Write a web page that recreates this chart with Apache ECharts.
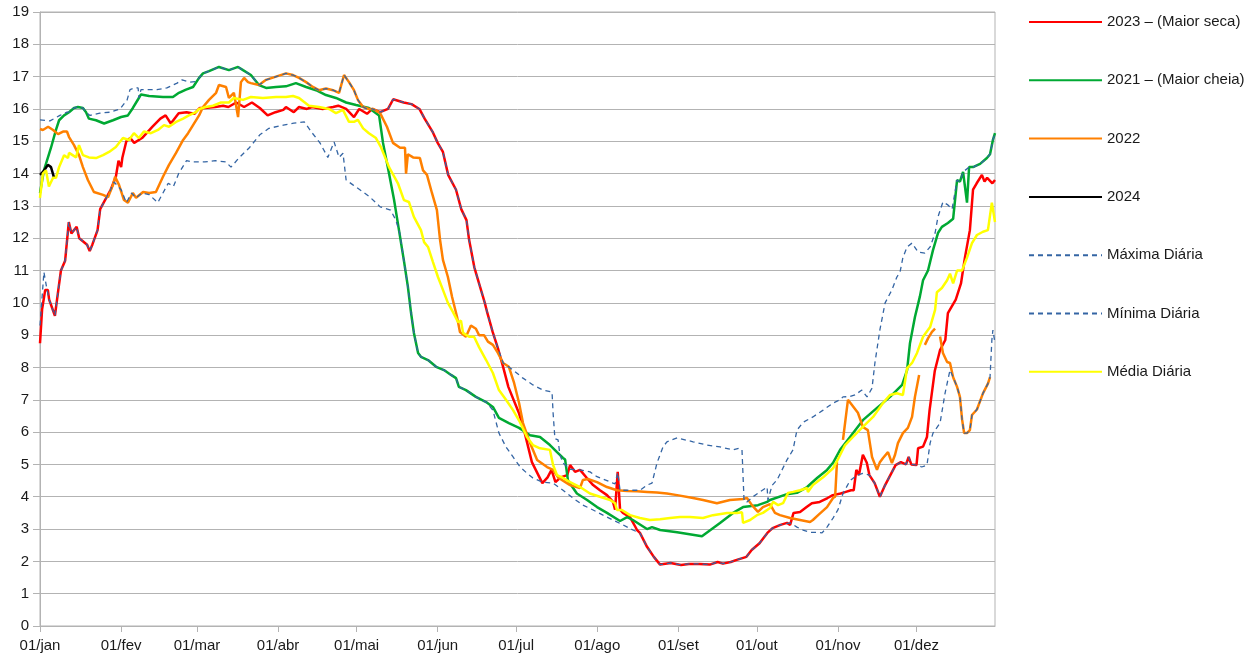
<!DOCTYPE html>
<html>
<head>
<meta charset="utf-8">
<script src="https://cdn.jsdelivr.net/npm/echarts@6/dist/echarts.min.js"></script>
<style>
  html, body { margin: 0; padding: 0; background: #fff; }
  #chart { width: 1256px; height: 661px; }
</style>
</head>
<body>
<div id="chart"></div>
<script>
// ---- calendar / tick labels (leap year, day index 0 = 01/jan) ----
const monthLengths = [31, 29, 31, 30, 31, 30, 31, 31, 30, 31, 30, 31];
const monthNames = ['jan', 'fev', 'mar', 'abr', 'mai', 'jun', 'jul', 'ago', 'set', 'out', 'nov', 'dez'];
const yTicks = { min: 0, max: 19, step: 1 };

// ---- series: [day of year, level] ----
const serie2023 = [[0,8.75],[0.8,9.8],[2,10.4],[3,10.4],[3.5,10.1],[5.7,9.6],[7,10.4],[8,11.0],[9.6,11.3],[11,12.5],[12,12.15],[14,12.35],[15,12.0],[18,11.8],[19,11.6],[20,11.8],[22,12.25],[23,12.9],[25,13.2],[27,13.5],[29,13.9],[30,14.4],[31,14.2],[31.5,14.5],[33,15.0],[34.5,15.1],[36,14.95],[39,15.1],[43,15.45],[46,15.7],[48,15.8],[50,15.55],[53,15.87],[56,15.9],[59,15.85],[61,16.03],[63,16.03],[67,16.06],[70,16.1],[72,16.06],[75,16.2],[78,16.06],[81,16.2],[84,16.03],[87,15.8],[90,15.9],[93,15.97],[94,16.06],[97,15.9],[99,16.06],[102,16.0],[104,16.06],[108,16.0],[112,16.06],[114,16.1],[117,16.0],[120,15.75],[122,16.0],[125,15.85],[127,16.0],[130,15.9],[133,16.0],[135,16.3],[139,16.2],[142,16.15],[145,16.0],[147,15.7],[150,15.3],[152,14.95],[154,14.67],[156,13.96],[159,13.5],[161,12.9],[163,12.56],[164,11.95],[166,11.1],[168,10.55],[170,10.0],[171,9.68],[173,9.1],[175,8.6],[177,8.02],[179,7.4],[183,6.6],[185,6.06],[188,5.07],[192,4.42],[194,4.6],[195.5,4.83],[197,4.45],[199,4.6],[201.5,4.67],[202.6,4.98],[204.5,4.77],[206.4,4.83],[209,4.58],[211.4,4.36],[214,4.2],[216.7,4.05],[219,3.84],[219.8,3.6],[220.8,4.77],[221.7,3.6],[222.8,3.5],[225.5,3.37],[228.2,2.97],[229.3,2.88],[232,2.45],[234.6,2.14],[237,1.9],[241,1.95],[245,1.89],[248,1.92],[252,1.92],[256,1.9],[259,1.98],[261,1.93],[264,1.98],[266,2.04],[270,2.14],[272,2.35],[275,2.56],[278,2.88],[280,3.03],[283,3.13],[285.5,3.19],[286.7,3.13],[288,3.5],[290.5,3.53],[293,3.68],[295,3.8],[298,3.84],[301,3.96],[303,4.05],[306,4.1],[308,4.15],[310,4.2],[311,4.2],[312,4.83],[313,4.67],[314.5,5.3],[316,5.05],[317,4.67],[319,4.42],[321,4.0],[323,4.36],[325,4.67],[327,4.98],[329,5.07],[331,5.0],[332,5.23],[333,5.0],[335,4.98],[335.6,5.5],[337.5,5.55],[339,5.85],[340,6.68],[342,7.9],[344,8.54],[346,8.85],[347,9.68],[350,10.1],[352,10.6],[353.5,11.4],[355.4,12.25],[356.6,13.5],[358,13.7],[360,13.96],[361,13.75],[362,13.87],[364,13.7],[365,13.8]];

const serie2021 = [[0,13.4],[1.5,14.1],[4.2,14.8],[6.1,15.35],[7.3,15.65],[9.2,15.8],[11.1,15.9],[13,16.03],[14.5,16.06],[16.4,16.03],[17.6,15.9],[18.7,15.7],[21.4,15.65],[24.5,15.55],[27.9,15.65],[31,15.75],[33.6,15.8],[35.5,16.03],[37.5,16.3],[38.6,16.45],[41.7,16.4],[47,16.37],[50.8,16.37],[53.1,16.5],[55.8,16.6],[58.5,16.68],[60.8,16.96],[62.3,17.1],[64.6,17.17],[68.4,17.3],[72.2,17.2],[75.7,17.3],[77.6,17.2],[80.6,17.05],[83.7,16.74],[86.4,16.65],[90.2,16.68],[94,16.7],[97.8,16.8],[101.7,16.68],[105.5,16.58],[109.3,16.43],[113.1,16.34],[117,16.2],[120.8,16.12],[125.7,16.03],[129.6,15.8],[131.1,14.95],[133.4,14.0],[135.3,13.2],[137.2,12.25],[139.1,11.3],[140.6,10.5],[141.8,9.7],[142.9,9.07],[144.5,8.45],[145.6,8.33],[148.3,8.23],[151.4,8.02],[154.4,7.92],[157.1,7.77],[159,7.67],[160.1,7.4],[162.8,7.3],[166.6,7.09],[170.5,6.93],[173.1,6.78],[175.4,6.44],[179.2,6.28],[183.1,6.13],[187.3,5.9],[191.1,5.85],[194.9,5.6],[197.6,5.38],[199.9,5.2],[200.7,5.15],[201.8,4.5],[205.2,4.1],[209.1,3.9],[212.9,3.68],[216.7,3.5],[221.7,3.25],[224.4,3.37],[226.6,3.28],[232,3.0],[233.9,3.06],[237,2.97],[243.5,2.9],[253,2.78],[259.9,3.19],[264.9,3.5],[268.7,3.68],[274.4,3.74],[277.9,3.84],[279,3.9],[285.5,4.08],[289.3,4.12],[293.2,4.3],[297,4.58],[300.8,4.83],[303.1,5.05],[305.8,5.45],[309.6,5.85],[314.5,6.37],[319.9,6.75],[324.9,7.09],[329.5,7.46],[331.4,7.92],[332.5,8.75],[334.4,9.56],[336.3,10.2],[337.5,10.7],[339.4,11.0],[341.3,11.63],[343.2,12.16],[344.7,12.35],[347,12.47],[349,12.6],[350.5,13.8],[351.6,13.75],[352.8,14.05],[354.3,13.1],[355.1,14.2],[356.6,14.2],[359.3,14.3],[361.9,14.48],[363.1,14.6],[364.2,15.04],[365,15.25]];

const serie2022 = [[0,15.38],[1.1,15.35],[3.1,15.45],[5,15.35],[6.9,15.22],[8.8,15.3],[10.3,15.3],[11.1,15.13],[13,14.88],[14.9,14.57],[16.4,14.2],[18.3,13.8],[20.6,13.43],[24.1,13.34],[26,13.27],[27.9,13.65],[28.7,13.9],[30.2,13.65],[32.1,13.18],[33.6,13.1],[35.5,13.4],[36.7,13.25],[39.4,13.43],[41.7,13.4],[44.3,13.43],[47,13.9],[49.3,14.27],[52,14.64],[54.7,15.04],[56.6,15.25],[58.5,15.5],[60.8,15.8],[62.3,16.06],[64.6,16.28],[67.3,16.5],[68.4,16.74],[71.1,16.68],[72.2,16.34],[74.1,16.5],[75.7,15.75],[76.8,16.83],[78,16.96],[79.5,16.83],[80.6,16.8],[83.7,16.74],[86.4,16.9],[90.2,17.0],[94,17.1],[96.7,17.05],[99,16.96],[101.7,16.83],[104.3,16.68],[106.6,16.58],[109.3,16.63],[112,16.58],[114.3,16.5],[116.2,17.05],[118.1,16.83],[120,16.58],[121.5,16.28],[123.5,16.06],[125.7,16.0],[127.3,16.0],[130,15.87],[132.6,15.45],[134.9,14.95],[137.6,14.8],[139.5,14.8],[139.9,14.0],[140.6,14.6],[142.6,14.5],[145.2,14.48],[146.4,14.1],[147.9,13.96],[149.8,13.4],[151.7,12.87],[152.9,11.95],[154,11.33],[155.9,10.8],[157.5,10.18],[159.4,9.56],[160.5,9.1],[162.8,8.95],[164.7,9.3],[166.6,9.2],[167.8,9.0],[169.7,9.0],[171.2,8.8],[173.1,8.7],[175,8.45],[177,8.14],[179.2,8.02],[181.2,7.52],[183.1,6.9],[184.6,6.28],[187.3,5.66],[190,5.14],[193.8,4.92],[196.1,4.83],[198,4.6],[199.9,4.5],[202.6,4.36],[206.4,4.27],[207.5,4.52],[209.4,4.55],[212.9,4.45],[216.7,4.3],[220.5,4.2],[224.4,4.18],[228.2,4.17],[232,4.15],[235.8,4.13],[239.6,4.1],[243.5,4.05],[249.6,3.96],[253.4,3.9],[258.7,3.8],[263.7,3.9],[268.7,3.93],[270.2,3.96],[272.1,3.74],[274.4,3.53],[276.3,3.68],[279,3.77],[280.9,3.5],[282.8,3.43],[286.7,3.34],[290.5,3.28],[294.3,3.22],[295.4,3.28],[297.4,3.43],[300.8,3.68],[303.1,3.96],[303.9,4.0],[304.6,5.07],[305.5,'-'],[306.9,5.76],[308.8,7.0],[310.7,6.8],[312.6,6.6],[314.5,6.16],[316.4,6.06],[318,5.23],[319.9,4.83],[321,5.07],[322.2,5.2],[324.1,5.38],[325.6,5.04],[326.8,5.3],[327.9,5.66],[329.8,5.97],[331.7,6.13],[333.3,6.47],[334.4,7.09],[336,7.77],[337,'-'],[338.2,8.7],[339.4,8.9],[340.9,9.1],[342.1,9.2],[343,'-'],[344,8.96],[345.1,8.45],[346.7,8.17],[347.8,8.14],[349,7.7],[350.5,7.4],[351.6,7.09],[352.4,6.4],[353.2,5.97],[354.3,5.97],[355.4,6.06],[356.2,6.53],[358.1,6.7],[360.4,7.2],[362.3,7.5],[363.1,7.7]];

const serie2024 = [[0,13.96],[1.1,14.05],[2,14.15],[3,14.27],[4.2,14.2],[5.4,13.87]];

const maximaDiaria = [[0,15.66],[3.8,15.63],[7.6,15.8],[10.3,15.9],[11.1,15.9],[13,16.03],[14.5,16.06],[16.4,16.03],[17.6,15.9],[19.1,15.8],[22.9,15.87],[26.8,15.9],[30.6,16.0],[33.3,16.28],[34.4,16.6],[36.3,16.65],[37.5,16.65],[37.8,16.34],[38.6,16.6],[44.7,16.6],[48.5,16.65],[52.4,16.8],[54.3,16.9],[57.3,16.83],[59.6,16.85],[60.8,16.96],[62.3,17.1],[64.6,17.17],[68.4,17.3],[72.2,17.2],[75.7,17.3],[77.6,17.2],[80.6,17.05],[83.7,16.74],[86.4,16.9],[90.2,17.0],[94,17.1],[96.7,17.05],[99,16.96],[101.7,16.83],[104.3,16.68],[106.6,16.58],[109.3,16.63],[112,16.58],[114.3,16.5],[116.2,17.05],[118.1,16.83],[120,16.58],[121.5,16.28],[123.5,16.06],[125,16.0],[127,16.0],[130,15.9],[133,16.0],[135,16.3],[139,16.2],[142,16.15],[145,16.0],[147,15.7],[150,15.3],[152,14.95],[154,14.67],[156,13.96],[159,13.5],[161,12.9],[163,12.56],[164,11.95],[166,11.1],[168,10.55],[170,10.0],[171,9.68],[173,9.1],[175,8.6],[177,8.14],[180.8,7.92],[184.6,7.67],[188.4,7.46],[192.2,7.3],[195.7,7.24],[196.1,6.6],[196.8,5.8],[198,5.76],[198.7,5.3],[199.9,5.04],[202.6,4.85],[206.4,4.83],[210.2,4.77],[212.9,4.62],[216.7,4.5],[219,4.42],[219.8,4.4],[220.8,4.75],[221.7,4.2],[226.6,4.2],[229.3,4.2],[232,4.36],[233.9,4.42],[235.8,5.04],[238.1,5.54],[239.6,5.7],[243.5,5.82],[249.6,5.7],[254.9,5.6],[259.9,5.54],[264.9,5.45],[267.2,5.5],[268.3,5.45],[269.1,3.85],[270.2,3.84],[272.5,4.0],[275.2,4.15],[277.9,4.3],[278.2,3.9],[279.8,4.35],[281.7,4.52],[285.5,5.14],[287.8,5.45],[289.3,6.06],[291.6,6.3],[295.4,6.47],[299.3,6.68],[303.1,6.9],[305.8,7.0],[306.9,7.09],[309.6,7.1],[311.5,7.15],[314.1,7.3],[316.1,7.09],[318,7.36],[319.1,8.14],[321,9.16],[323,10.0],[325.6,10.4],[327.5,10.8],[328.7,10.95],[329.8,11.4],[331.4,11.73],[333.3,11.85],[335.6,11.57],[338.2,11.54],[340.2,11.73],[342.1,12.16],[343.2,12.66],[345.1,13.12],[347,13.03],[348.6,12.9],[350.5,13.8],[351.6,13.75],[352.8,14.05],[353.5,14.1],[355.1,14.2],[356.6,14.2],[359.3,14.3],[361.9,14.48],[363.1,14.6],[364.2,15.04],[365,15.25]];

const minimaDiaria = [[0,9.3],[1.5,10.95],[2.7,10.4],[3.5,10.1],[5.7,9.6],[7,10.4],[8,11.0],[9.6,11.3],[11,12.5],[12,12.15],[14,12.35],[15,12.0],[18,11.8],[19,11.6],[20,11.8],[22,12.25],[23,12.9],[25,13.2],[27,13.5],[28.3,13.74],[31,13.5],[33,13.1],[35,13.4],[36.7,13.25],[39,13.4],[41.7,13.35],[45,13.1],[47,13.4],[49,13.7],[51,13.6],[53,14.0],[56,14.4],[58,14.36],[61,14.36],[63,14.36],[67,14.4],[71,14.36],[73,14.2],[76,14.48],[80,14.8],[84,15.2],[87.5,15.4],[93,15.5],[97,15.56],[101,15.6],[104,15.26],[107,14.95],[110,14.5],[112.4,14.98],[114.3,14.5],[115.8,14.63],[117,13.8],[119.6,13.65],[123.5,13.43],[126,13.28],[130,12.97],[134,12.87],[136,12.56],[137.5,12.16],[139.1,11.3],[140.6,10.5],[141.8,9.7],[142.9,9.07],[144.5,8.45],[145.6,8.33],[148.3,8.23],[151.4,8.02],[154.4,7.92],[157.1,7.77],[159,7.67],[160.1,7.4],[162.8,7.3],[166.6,7.09],[170.5,6.93],[173.1,6.68],[175.4,5.97],[178.1,5.54],[180.8,5.23],[183.5,4.92],[186.1,4.73],[188.4,4.58],[192.2,4.45],[196.1,4.42],[199.9,4.2],[203.7,3.96],[207.5,3.74],[211.4,3.59],[215.2,3.43],[219,3.28],[222.8,3.13],[226.6,2.97],[229.3,2.88],[232,2.45],[234.6,2.14],[237,1.9],[241,1.95],[245,1.89],[248,1.92],[252,1.92],[256,1.9],[259,1.98],[261,1.93],[264,1.98],[266,2.04],[270,2.14],[272,2.35],[275,2.56],[278,2.88],[280,3.03],[283,3.13],[286.7,3.19],[289.3,3.06],[291.6,2.97],[294.3,2.9],[297,2.9],[298.9,2.88],[300.8,3.06],[303.1,3.34],[305,3.6],[306.9,4.1],[309.6,4.5],[312.3,4.67],[314.5,4.72],[317,4.67],[319,4.42],[321,4.0],[323,4.36],[325,4.67],[327,4.98],[329,5.07],[331,5.0],[332,5.23],[333,5.0],[335,4.98],[337,4.92],[339,4.98],[340.2,5.66],[341.3,5.97],[344,6.28],[345.9,7.2],[347.8,7.92],[349,7.7],[350.5,7.4],[351.6,7.09],[352.4,6.4],[353.2,5.97],[354.3,5.97],[355.4,6.06],[356.2,6.53],[358.1,6.7],[360.4,7.2],[362.3,7.5],[363.1,7.7],[363.8,8.85],[364.2,9.16],[365,8.75]];

const mediaDiaria = [[0,13.25],[1.1,14.0],[2.3,14.1],[3.4,13.6],[5,13.87],[6.1,13.87],[7.3,14.2],[9.2,14.57],[10.7,14.48],[11.1,14.64],[13.8,14.5],[14.9,14.88],[16.4,14.57],[18.7,14.5],[21.4,14.48],[24.1,14.57],[26.4,14.67],[29,14.82],[31.7,15.1],[34,15.04],[35.9,15.25],[37.8,15.1],[39.7,15.3],[42.4,15.25],[45.1,15.35],[47.4,15.5],[49.3,15.45],[52,15.6],[54.7,15.7],[56.9,15.8],[59.6,15.9],[60.8,16.0],[63.4,16.06],[66.1,16.1],[69.2,16.2],[72.2,16.2],[74.1,16.34],[77.6,16.28],[80.6,16.37],[85.2,16.34],[90.2,16.37],[94,16.37],[96.7,16.4],[99,16.34],[102.8,16.1],[106.6,16.06],[110.5,16.0],[113.1,15.87],[115.8,15.97],[118.1,15.6],[120,15.6],[121.5,15.66],[123.5,15.4],[125.7,15.25],[128.4,15.1],[130.3,14.82],[133.4,14.2],[136.8,13.7],[139.1,13.18],[141,13.12],[142.9,12.66],[145.6,12.25],[146.8,11.88],[148.3,11.73],[150.2,11.26],[152.1,10.8],[154,10.4],[155.9,10.0],[157.8,9.72],[159.8,9.4],[160.9,9.45],[161.7,9.07],[164,8.95],[165.9,8.95],[167.8,8.63],[170.5,8.23],[173.1,7.83],[175.4,7.3],[178.1,7.0],[180.8,6.68],[183.5,6.3],[186.1,5.85],[188.4,5.6],[191.1,5.5],[194.9,5.45],[196.1,4.98],[197.6,4.67],[199.9,4.58],[202.6,4.45],[206.4,4.3],[210.2,4.1],[214,4.0],[217.9,3.9],[219.8,3.8],[220.5,3.59],[222.4,3.59],[225.5,3.43],[229.3,3.34],[233.1,3.28],[237,3.3],[240.8,3.34],[244.6,3.37],[248.4,3.37],[253.4,3.34],[257.2,3.43],[262.6,3.5],[266.4,3.5],[268.3,3.52],[268.7,3.19],[271.4,3.28],[274,3.43],[276.3,3.5],[279,3.65],[280.2,3.84],[282.1,3.74],[284,3.8],[285.9,4.12],[287.8,4.15],[290.5,4.2],[293.2,4.27],[293.5,4.15],[295.4,4.36],[299.3,4.6],[303.1,4.88],[304.6,5.1],[307.7,5.6],[310.7,5.85],[314.5,6.16],[318.4,6.47],[322.2,6.9],[324.9,7.15],[327.5,7.2],[329.8,7.15],[331.4,7.98],[333.3,8.14],[335.2,8.45],[337.5,8.95],[340.2,9.25],[342.1,9.78],[342.8,10.33],[344.7,10.46],[346.7,10.7],[347.8,10.9],[349,10.6],[350.5,11.0],[352.4,11.0],[354.3,11.4],[356.2,11.85],[358.1,12.1],[360.4,12.2],[362.3,12.25],[363.8,13.1],[364.2,13.1],[365,12.5]];

// ---- build chart ----
const monthStarts = [];
monthLengths.reduce((acc, len) => { monthStarts.push(acc); return acc + len; }, 0);
const yearLastDay = monthLengths.reduce((a, b) => a + b, 0) - 1;

const gridColor = '#b3b3b3';
const textColor = '#1a1a1a';
const fontFamily = '"Liberation Sans", Arial, sans-serif';

function solid(name, color, data) {
  return { name, type: 'line', data, symbol: 'none', showSymbol: false, smooth: false,
           connectNulls: false, lineStyle: { color, width: 2.5 }, itemStyle: { color } };
}
function dashed(name, color, data) {
  return { name, type: 'line', data, symbol: 'none', showSymbol: false, smooth: false,
           lineStyle: { color, width: 1.3, type: [5, 4] }, itemStyle: { color } };
}

const chart = echarts.init(document.getElementById('chart'), null, { renderer: 'canvas' });
chart.setOption({
  animation: false,
  backgroundColor: '#ffffff',
  textStyle: { fontFamily },
  grid: { left: 40, right: 261, top: 12, bottom: 35, show: true, borderColor: gridColor, borderWidth: 1 },
  legend: {
    orient: 'vertical', left: 1028, top: 14, padding: 0,
    itemWidth: 73, itemHeight: 16, itemGap: 42.3,
    selectedMode: false,
    itemStyle: { opacity: 0, borderWidth: 0 },
    textStyle: { fontSize: 15, color: textColor, fontFamily, lineHeight: 16 },
    data: ['2023 – (Maior seca)', '2021 – (Maior cheia)', '2022', '2024', 'Máxima Diária', 'Mínima Diária', 'Média Diária']
  },
  xAxis: {
    type: 'value', min: 0, max: yearLastDay,
    axisLine: { show: true, lineStyle: { color: gridColor, width: 1 } },
    axisTick: { show: true, customValues: monthStarts, length: 6, lineStyle: { color: gridColor } },
    axisLabel: {
      customValues: monthStarts, margin: 12, fontSize: 15, color: textColor, fontFamily,
      formatter: v => '01/' + monthNames[monthStarts.indexOf(v)]
    },
    splitLine: { show: false }
  },
  yAxis: {
    type: 'value', min: yTicks.min, max: yTicks.max, interval: yTicks.step,
    axisLine: { show: true, lineStyle: { color: gridColor, width: 1 } },
    axisTick: { show: true, length: 7, lineStyle: { color: gridColor } },
    axisLabel: { margin: 11, fontSize: 15, color: textColor, fontFamily },
    splitLine: { show: true, lineStyle: { color: gridColor, width: 1 } }
  },
  series: [
    solid('2023 – (Maior seca)', '#ff0000', serie2023),
    solid('2021 – (Maior cheia)', '#00a933', serie2021),
    solid('2022', '#ff8000', serie2022),
    solid('2024', '#000000', serie2024),
    dashed('Máxima Diária', '#3465a4', maximaDiaria),
    dashed('Mínima Diária', '#3465a4', minimaDiaria),
    solid('Média Diária', '#ffff00', mediaDiaria)
  ]
});
</script>
</body>
</html>
